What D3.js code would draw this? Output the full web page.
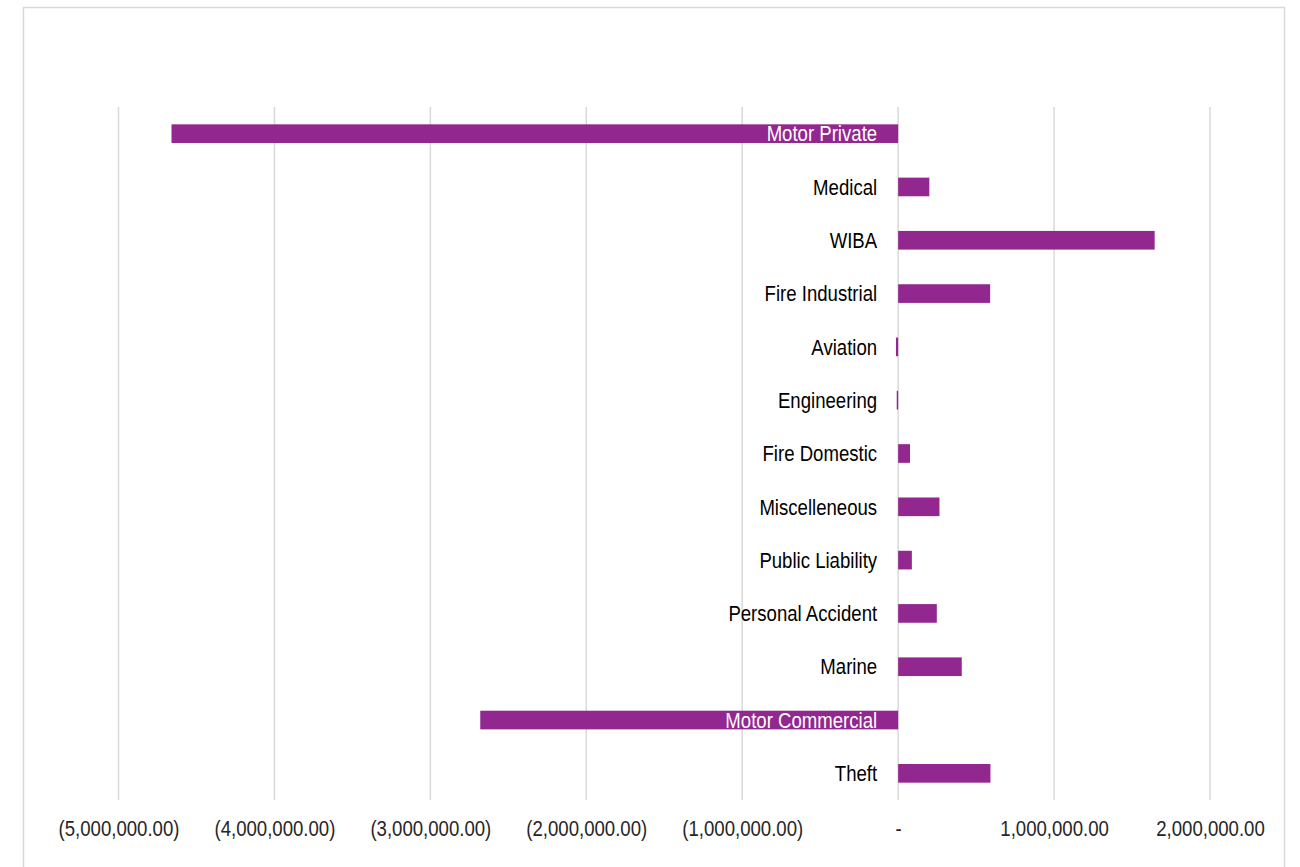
<!DOCTYPE html>
<html>
<head>
<meta charset="utf-8">
<script src="https://cdn.jsdelivr.net/npm/d3@7"></script>
<style>
  body { margin: 0; background: #fff; }
  svg { display: block; }
  text { font-family: "Liberation Sans", Arial, sans-serif; }
</style>
</head>
<body>
<svg id="chart" width="1300" height="867"></svg>
<script>
// Net result by class of business
const categories = [
  "Motor Private", "Medical", "WIBA", "Fire Industrial", "Aviation",
  "Engineering", "Fire Domestic", "Miscelleneous", "Public Liability",
  "Personal Accident", "Marine", "Motor Commercial", "Theft"
];
const values = [
  -4660000, 200000, 1645000, 590000, -14000,
  -9000, 76000, 265000, 88000,
  248000, 408000, -2680000, 592000
];
const xTicks = [-5000000, -4000000, -3000000, -2000000, -1000000, 0, 1000000, 2000000];

const data = categories.map((c, i) => ({ name: c, value: values[i] }));

const svg = d3.select("#chart");
const barColor = "#92278f";
const squeeze = 0.845; // narrow lettering

// frame
svg.append("rect")
  .attr("x", 23.5).attr("y", 7.5)
  .attr("width", 1261).attr("height", 900)
  .attr("fill", "#fff")
  .attr("stroke", "#d9d9d9").attr("stroke-width", 1.5);

const x = d3.scaleLinear().domain([-5000000, 2000000]).range([118.5, 1210]);
const y = d3.scaleBand().domain(categories).range([107, 800])
  .paddingInner(0.65).paddingOuter(0.325);

// vertical gridlines
svg.append("g").selectAll("line").data(xTicks).join("line")
  .attr("x1", d => x(d)).attr("x2", d => x(d))
  .attr("y1", 107).attr("y2", 800)
  .attr("stroke", "#d9d9d9").attr("stroke-width", 1.5);

// bars
svg.append("g").selectAll("rect").data(data).join("rect")
  .attr("x", d => x(Math.min(0, d.value)))
  .attr("width", d => Math.max(1, Math.abs(x(d.value) - x(0))))
  .attr("y", d => y(d.name))
  .attr("height", y.bandwidth())
  .attr("fill", barColor);

// bottom axis labels
const fmt = d3.format(",.2f");
const tickFmt = d => d === 0 ? "-" : d < 0 ? "(" + fmt(-d) + ")" : fmt(d);
const xAxis = svg.append("g").attr("transform", "translate(0,800)")
  .call(d3.axisBottom(x).tickValues(xTicks).tickFormat(tickFmt).tickSize(0));
xAxis.select(".domain").remove();
xAxis.selectAll("text")
  .attr("y", 28).attr("dy", "0.35em")
  .attr("transform", `scale(${squeeze},1)`)
  .attr("font-size", 22)
  .attr("font-family", "Liberation Sans, Arial, sans-serif")
  .attr("fill", "#262626");

// category labels next to the zero line
const yAxis = svg.append("g").attr("transform", `translate(${x(0)},0)`)
  .call(d3.axisLeft(y).tickSize(0).tickPadding(0));
yAxis.select(".domain").remove();
yAxis.selectAll("text")
  .attr("x", 0).attr("dy", "0.35em")
  .attr("transform", `translate(-21,0) scale(${squeeze},1)`)
  .attr("font-size", 22)
  .attr("font-family", "Liberation Sans, Arial, sans-serif")
  .attr("fill", function (d) {
    const v = values[categories.indexOf(d)];
    const w = this.getComputedTextLength() * squeeze;
    const left = x(0) - 21 - w;
    return x(v) < left ? "#ffffff" : "#000000";
  });
</script>
</body>
</html>
